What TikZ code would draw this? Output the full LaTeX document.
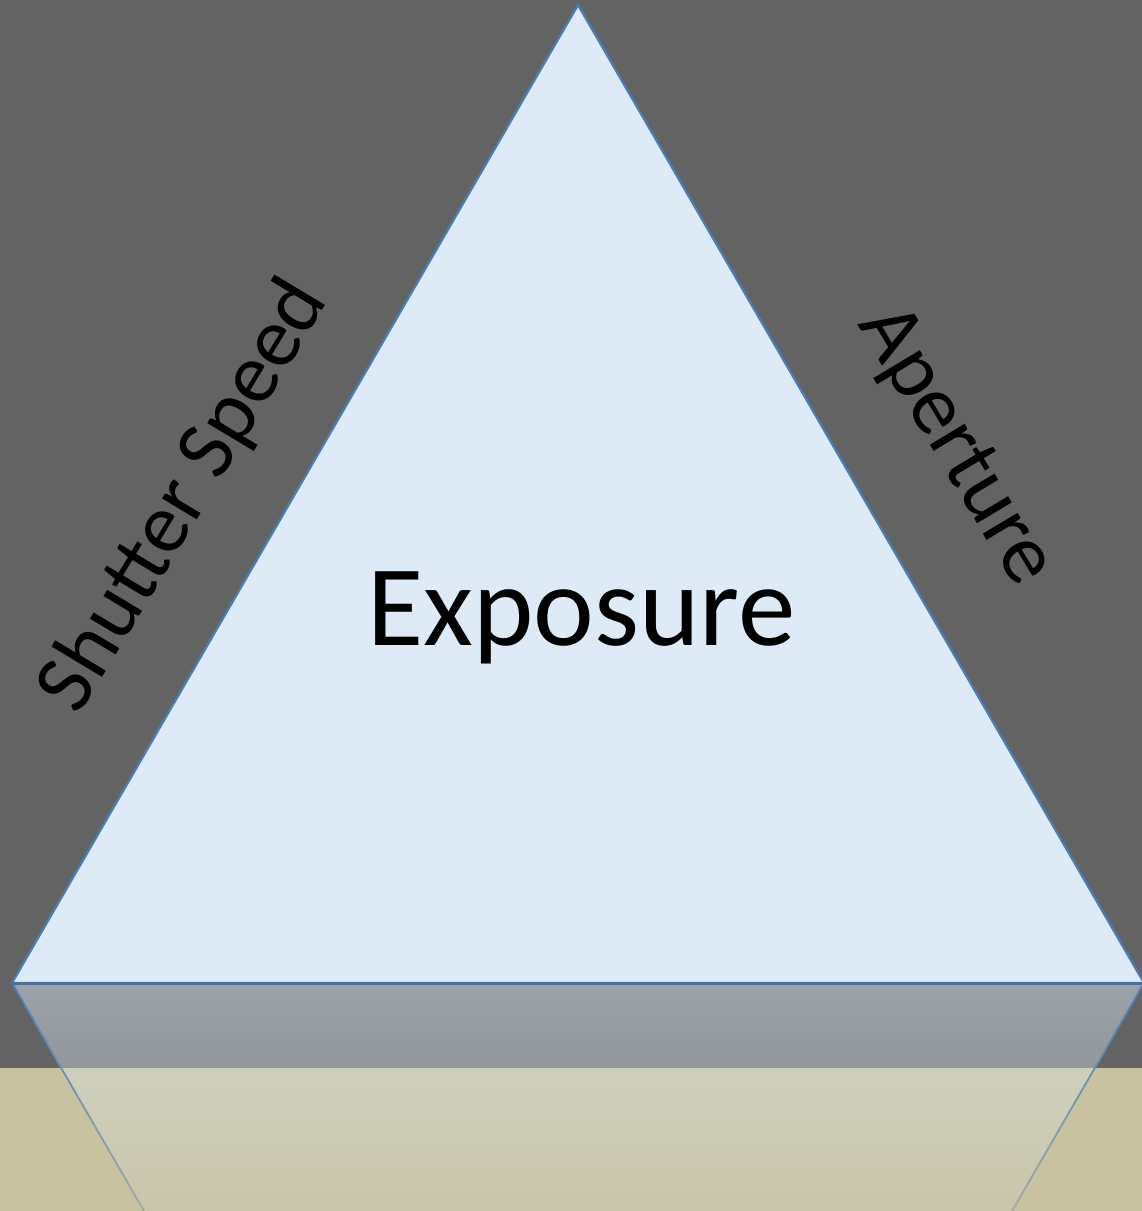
\documentclass[tikz,border=0pt]{standalone}
\usepackage{fontspec}
\setmainfont{Carlito}
\usetikzlibrary{calc}
\definecolor{bgdark}{HTML}{636363}
\definecolor{ground}{HTML}{C9C2A1}
\definecolor{trifill}{HTML}{DEEAF6}
\definecolor{triedge}{HTML}{4A7EBB}
\definecolor{baseedge}{HTML}{4C6F96}
\definecolor{refgraytop}{HTML}{9CA2AA}
\definecolor{refgraybot}{HTML}{92979B}
\definecolor{reftantop}{HTML}{CED0BE}
\definecolor{reftanbot}{HTML}{CAC5AA}
\definecolor{edgefade}{HTML}{A3AAA3}
\tikzset{
  labeltext/.style={text=black, inner sep=0pt, anchor=base},
  sidelabel/.style={labeltext, font=\fontsize{85}{96}\selectfont},
}
\begin{document}
\begin{tikzpicture}[x=1pt,y=-1pt]
\useasboundingbox (0,0) rectangle (1142,1211);
\clip (0,0) rectangle (1142,1211);
\fill[bgdark] (0,0) rectangle (1142,1068);
\fill[ground] (0,1068) rectangle (1142,1211);
\coordinate (A) at (578,5);
\coordinate (L) at (12,983);
\coordinate (R) at (1144,983);
\coordinate (LM) at (61.2,1068);
\coordinate (RM) at (1094.8,1068);
\coordinate (LB) at (144,1211);
\coordinate (RB) at (1012,1211);
% reflection
\shade[top color=refgraytop, bottom color=refgraybot] (L)--(LM)--(RM)--(R)--cycle;
\shade[top color=reftantop, bottom color=reftanbot] (LM)--(LB)--(RB)--(RM)--cycle;
\foreach \i in {0,...,23}{
  \pgfmathsetmacro\p{100-\i*4.2}
  \draw[triedge!\p!edgefade, line width=1.8pt] ($(L)!{\i/24}!(LB)$) -- ($(L)!{(\i+1)/24}!(LB)$);
  \draw[triedge!\p!edgefade, line width=1.8pt] ($(R)!{\i/24}!(RB)$) -- ($(R)!{(\i+1)/24}!(RB)$);
}
% triangle
\filldraw[fill=trifill, draw=triedge, line width=2.2pt] (A)--(L)--(R)--cycle;
\draw[baseedge, line width=3pt] (L)--(R);
% labels
\node[labeltext, font=\fontsize{115}{130}\selectfont] (exposure) at (581.5,645) {Exposure};
\node[sidelabel, rotate=59] (shutter) at (204,508) {Shutter Speed};
\node[sidelabel, rotate=-59] (aperture) at (937,457) {Aperture};
\end{tikzpicture}
\end{document}
